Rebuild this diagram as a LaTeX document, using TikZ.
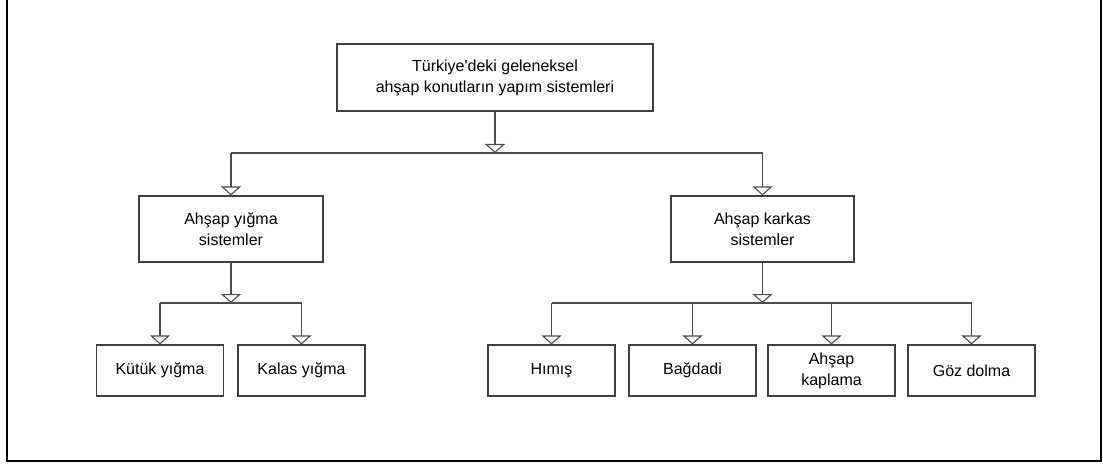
\documentclass[tikz,border=0pt]{standalone}
\usepackage{fontspec}
\setmainfont{Liberation Sans}[Ligatures=TeXOff]
\usetikzlibrary{arrows.meta}
\begin{document}
\begin{tikzpicture}[x=1pt, y=-1pt,
  box/.style={draw=black!75, line width=1.1pt, align=center, inner sep=0pt,
    font=\fontsize{16}{21}\selectfont, text=black},
  leaf/.style={box, minimum width=127pt, minimum height=51pt},
  link/.style={draw=black!70, line width=1.1pt},
  feed/.style={link, -{Triangle[open, width=20pt, length=9pt]}}
]
\useasboundingbox (0,0) rectangle (1103,465);
% outer frame
\draw[line width=2pt] (7,0) -- (7,461) -- (1101,461) -- (1101,0);
% boxes
\node[box, minimum width=316pt, minimum height=67pt] (root) at (495,77.5)
  {T\"urkiye'deki geleneksel\\ah\c{s}ap konutlar\i n yap\i m sistemleri};
\node[box, minimum width=184pt, minimum height=66pt] (yigma) at (231,229)
  {Ah\c{s}ap y\i\u{g}ma\\sistemler};
\node[box, minimum width=183pt, minimum height=66pt] (karkas) at (762.5,229)
  {Ah\c{s}ap karkas\\sistemler};
\node[leaf] (kutuk) at (160,370.5) {K\"ut\"uk y\i\u{g}ma};
\node[leaf] (kalas) at (301.5,370.5) {Kalas y\i\u{g}ma};
\node[leaf] (himis) at (551.5,370.5) {H\i m\i\c{s}};
\node[leaf] (bagdadi) at (692.5,370.5) {Ba\u{g}dadi};
\node[leaf] (kaplama) at (831.5,370.5) {Ah\c{s}ap\\kaplama};
\node[leaf] (gozdolma) at (971.5,370.5) {G\"oz dolma};
% buses
\coordinate (bus0) at (0,153);
\coordinate (bus1) at (0,303);
% root level
\draw[feed] (root.south) -- (root.south |- bus0);
\draw[link] (yigma |- bus0) -- (karkas |- bus0);
\foreach \n in {yigma, karkas}
  \draw[feed] (\n |- bus0) -- (\n.north);
% yigma branch
\draw[feed] (yigma.south) -- (yigma.south |- bus1);
\draw[link] (kutuk |- bus1) -- (kalas |- bus1);
\foreach \n in {kutuk, kalas}
  \draw[feed] (\n |- bus1) -- (\n.north);
% karkas branch
\draw[feed] (karkas.south) -- (karkas.south |- bus1);
\draw[link] (himis |- bus1) -- (gozdolma |- bus1);
\foreach \n in {himis, bagdadi, kaplama, gozdolma}
  \draw[feed] (\n |- bus1) -- (\n.north);
\end{tikzpicture}
\end{document}
